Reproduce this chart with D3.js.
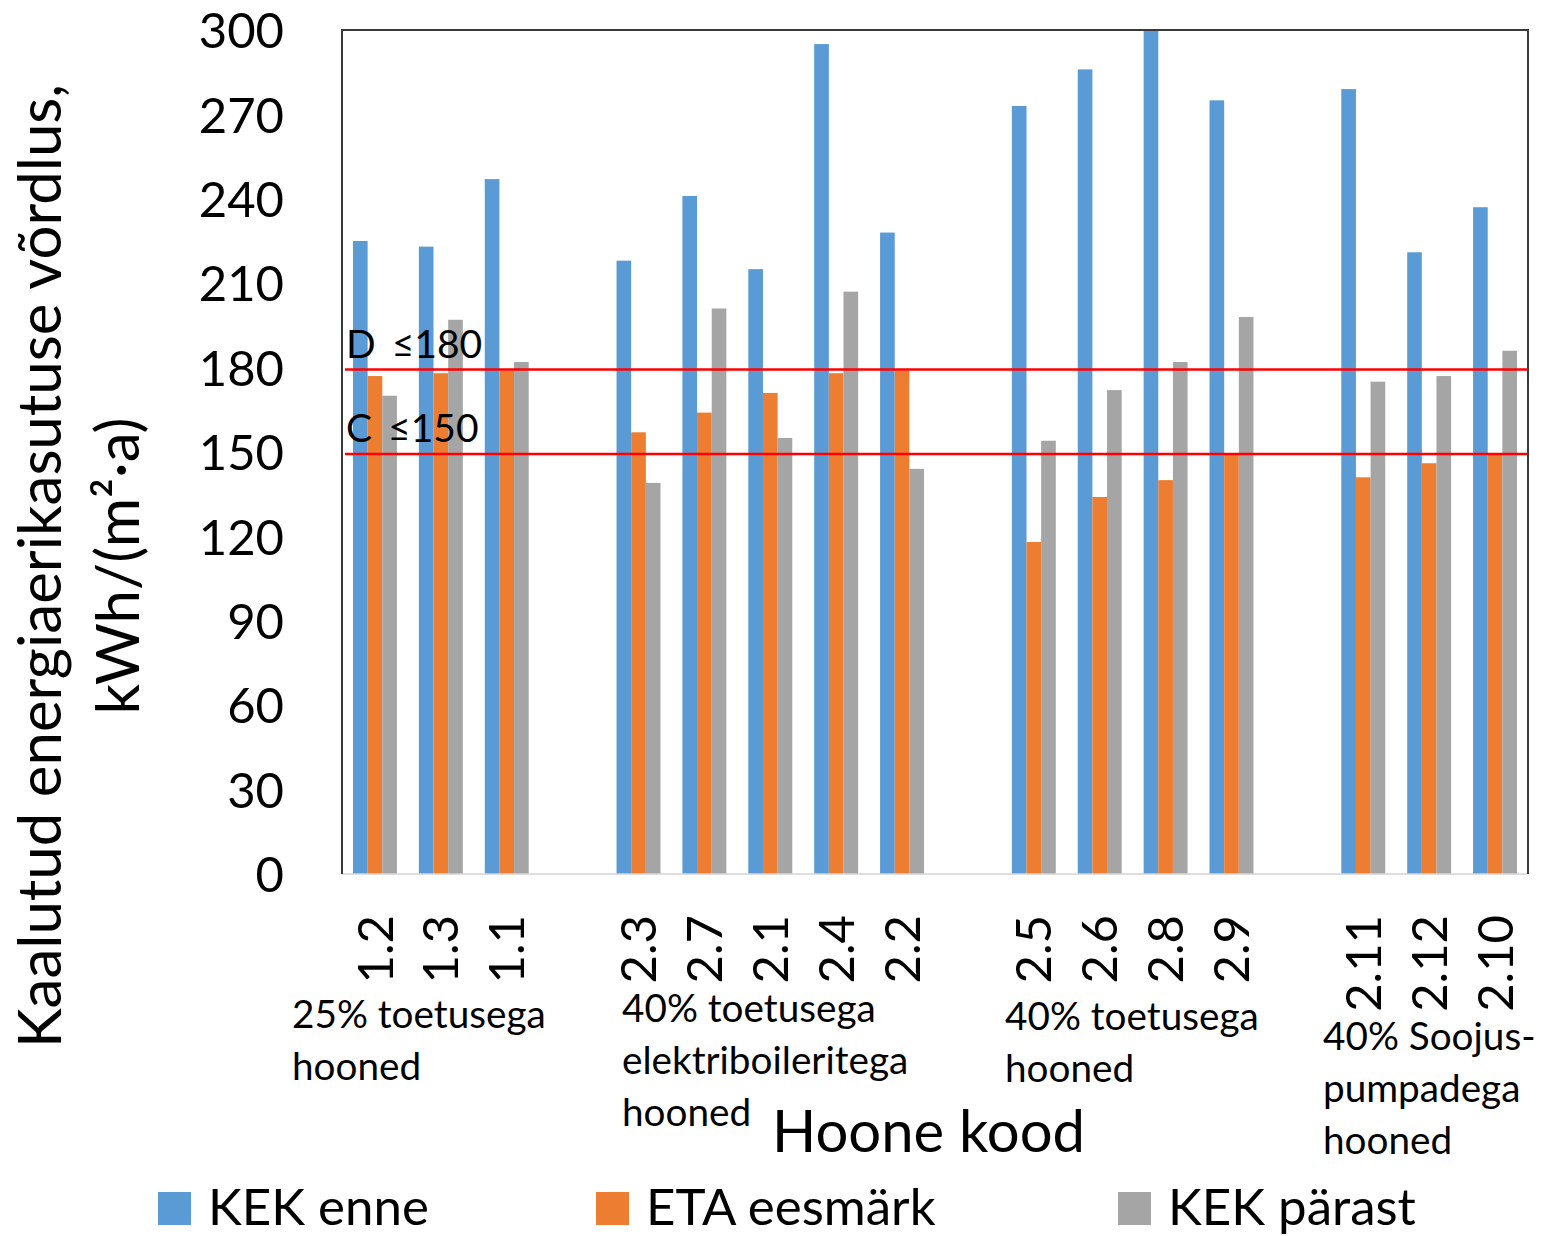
<!DOCTYPE html>
<html>
<head>
<meta charset="utf-8">
<script src="https://cdn.jsdelivr.net/npm/d3@7/dist/d3.min.js"></script>
<style>
  html, body { margin: 0; padding: 0; background: #fff; }
  svg text { font-family: Lato, "Open Sans", sans-serif; fill: #000; }
</style>
</head>
<body>
<svg id="chart" width="1542" height="1236"></svg>
<script>
// ---------- data ----------
const categories = ["1.2","1.3","1.1","2.3","2.7","2.1","2.4","2.2","2.5","2.6","2.8","2.9","2.11","2.12","2.10"];
const groupIndex = [0,0,0,1,1,1,1,1,2,2,2,2,3,3,3];
const groupLabels = [
  ["25% toetusega","hooned"],
  ["40% toetusega","elektriboileritega","hooned"],
  ["40% toetusega","hooned"],
  ["40% Soojus-","pumpadega","hooned"]
];
const kekEnne    = [225,223,247,218,241,215,295,228,273,286,300,275,279,221,237];
const etaEesmark = [177,178,179,157,164,171,178,179,118,134,140,149,141,146,149];
const kekParast  = [170,197,182,139,201,155,207,144,154,172,182,198,175,177,186];
const seriesNames = ["KEK enne","ETA eesmärk","KEK pärast"];
const seriesColors = ["#5B9BD5","#ED7D31","#A5A5A5"];
const yTicks = [0,30,60,90,120,150,180,210,240,270,300];
const refLines = [{value:180,label:"D \u2264180"},{value:150,label:"C \u2264150"}];
const yTitle = ["Kaalutud energiaerikasutuse võrdlus,","kWh/(m\u00B2\u00B7a)"];
const xTitle = "Hoone kood";

// ---------- layout ----------
const svg = d3.select("#chart");
const X0 = 342, X1 = 1528, Y0 = 30, Y1 = 874;

// slot domain with empty gap slots between groups
const slots = [];
categories.forEach((c,i) => {
  if (i > 0 && groupIndex[i] !== groupIndex[i-1]) slots.push("gap" + groupIndex[i]);
  slots.push(c);
});

const x = d3.scaleBand().domain(slots).range([X0, X1]).paddingInner(0.333).paddingOuter(0.1667);
const xs = d3.scaleBand().domain(seriesNames).range([0, x.bandwidth()]).padding(0);
const y = d3.scaleLinear().domain([0, 300]).range([Y1, Y0]);

const rows = categories.map((c,i) => ({cat:c, vals:[kekEnne[i], etaEesmark[i], kekParast[i]]}));

// bars
const g = svg.append("g");
rows.forEach(r => {
  g.selectAll(null).data(r.vals.map((v,k)=>({v,k}))).enter().append("rect")
    .attr("x", d => x(r.cat) + xs(seriesNames[d.k]))
    .attr("width", xs.bandwidth())
    .attr("y", d => y(d.v))
    .attr("height", d => y(0) - y(d.v))
    .attr("fill", d => seriesColors[d.k]);
});

// frame
svg.append("line").attr("x1", X0).attr("x2", X1).attr("y1", Y1).attr("y2", Y1)
  .attr("stroke", "#d4d4d4").attr("stroke-width", 1.5);
svg.append("path").attr("d", `M${X0},${Y1}V${Y0}H${X1}V${Y1}`)
  .attr("fill", "none").attr("stroke", "#3a3a3a").attr("stroke-width", 2);

// reference lines
refLines.forEach(rl => {
  svg.append("line").attr("x1", X0 + 3).attr("x2", X1).attr("y1", y(rl.value) + 2).attr("y2", y(rl.value) + 2)
    .attr("stroke", "#FF0000").attr("stroke-width", 2.5);
  const t = svg.append("text").attr("x", X0 + 4).attr("y", y(rl.value) - 10).attr("font-size", 39);
  const parts = rl.label.split(" ");
  t.append("tspan").text(parts[0]);
  t.append("tspan").attr("dx", 16).text(parts[1]);
});

// y axis labels
const yAxis = d3.axisLeft(y).tickValues(yTicks).tickSize(0).tickPadding(0);
const ya = svg.append("g").attr("transform", `translate(${284},0)`).call(yAxis);
ya.select(".domain").remove();
ya.selectAll("text").attr("font-size", 49).attr("font-family", "Lato, sans-serif").attr("fill", "#000").attr("dy", "0.36em");

// x axis tick labels (rotated)
const xAxis = d3.axisBottom(x).tickValues(categories).tickSize(0).tickPadding(0);
const xa = svg.append("g").attr("transform", `translate(0,${915})`).call(xAxis);
xa.select(".domain").remove();
xa.selectAll("text")
  .attr("font-size", 49).attr("font-family", "Lato, sans-serif").attr("fill", "#000")
  .attr("text-anchor", "end")
  .attr("transform", "rotate(-90)")
  .attr("x", 0).attr("y", 0).attr("dy", "0.36em");

// group labels
const groupPos = [
  {x:292, y:1028},
  {x:622, y:1022},
  {x:1005, y:1030},
  {x:1323, y:1050}
];
groupLabels.forEach((lines, gi) => {
  const t = svg.append("text").attr("x", groupPos[gi].x).attr("y", groupPos[gi].y).attr("font-size", 38.7);
  lines.forEach((ln, li) => {
    t.append("tspan").attr("x", groupPos[gi].x).attr("y", groupPos[gi].y + li * 52).text(ln);
  });
});

// x title
svg.append("text").attr("x", 772).attr("y", 1152).attr("font-size", 58).text(xTitle);

// y title
const yt = svg.append("text").attr("transform", "translate(0,566) rotate(-90)").attr("text-anchor", "middle").attr("font-size", 60);
yt.append("tspan").attr("x", 0).attr("y", 61).text(yTitle[0]);
yt.append("tspan").attr("x", 0).attr("y", 139).text(yTitle[1]);

// legend
const legendPos = [158, 596, 1118];
seriesNames.forEach((s, i) => {
  svg.append("rect").attr("x", legendPos[i]).attr("y", 1192).attr("width", 33).attr("height", 33).attr("fill", seriesColors[i]);
  svg.append("text").attr("x", legendPos[i] + 50).attr("y", 1225).attr("font-size", 51).text(s);
});
</script>
</body>
</html>
